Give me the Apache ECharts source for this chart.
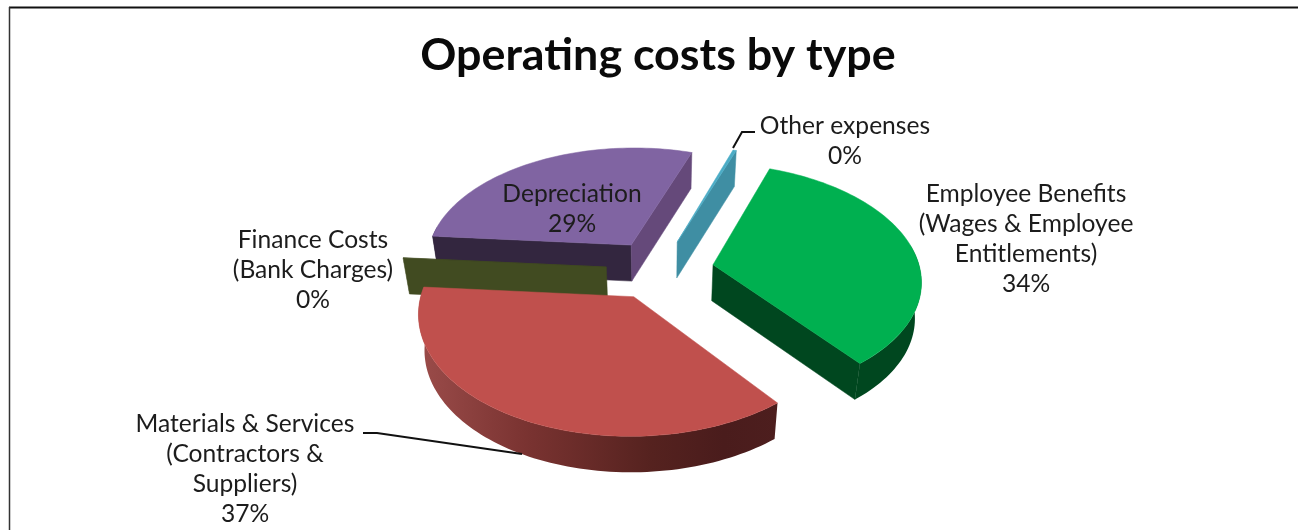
<!DOCTYPE html>
<html>
<head>
<meta charset="utf-8">
<title>Operating costs by type</title>
<style>
  html, body { margin: 0; padding: 0; background: #fff; }
  #chart { width: 1298px; height: 530px; }
</style>
<script src="https://cdn.jsdelivr.net/npm/echarts@6/dist/echarts.min.js"></script>
</head>
<body>
<div id="chart"></div>
<script>
// Chart data, clockwise from the first slice.
const categories = [
  'Employee Benefits\n(Wages & Employee\nEntitlements)',
  'Materials & Services\n(Contractors &\nSuppliers)',
  'Finance Costs\n(Bank Charges)',
  'Depreciation',
  'Other expenses'
];
const costShares = [33.9, 36.9, 0.05, 28.85, 0.3];

// Slice colours: top face, flat cut faces, outer rim (left to right).
const topColors = ['#00b050', '#c0504d', '#414b21', '#8064a2', '#4bacc6'];
const startFaceColors = ['#00471f', '#4a1c1c', '#414b21', '#33263f', '#3f8ea3'];
const endFaceColors = ['#00471f', '#4a1c1c', '#414b21', '#65497a', '#3f8ea3'];
const rimColors = [
  [[0, '#00471f'], [1, '#00471f']],
  [[0, '#9b4c4a'], [0.3, '#7a3331'], [0.65, '#55221f'], [0.85, '#4a1c1c'], [1, '#4d1e1e']],
  [[0, '#414b21'], [1, '#414b21']],
  [[0, '#33263f'], [1, '#33263f']],
  [[0, '#3f8ea3'], [1, '#3f8ea3']]
];

// Pie geometry in the plane of the pie, and its perspective projection.
const pie = {
  cx: 660, cy: 269.5, radius: 207, explode: 54, depth: 36, baseScale: 0.975,
  startAngle: 19.7, squash: 0.555, persY: 0.0006, persX: 0.0006
};

// Hand-placed label boxes (centre x, top y of the first line).
const labelPlaces = [[1026, 179], [245, 409.5], [313, 225], [572, 179], [845, 111]];
const labelFont = 'Lato, "Open Sans", sans-serif';

// Leader lines for the labels that sit away from their slice.
const leaders = [
  [[363, 433], [377, 433], [522, 454]],
  [[733, 148], [742, 132], [755, 132]]
];

const total = costShares.reduce((a, b) => a + b, 0);
const toRad = d => d * Math.PI / 180;

function project(u, v) {
  return [
    pie.cx + u / (1 - pie.persX * v),
    pie.cy + pie.squash * v / (1 - pie.persY * v)
  ];
}
// Point in the pie plane: clockwise angle from the far side, plus radial distance.
function planePoint(angle, r, off) {
  return [off[0] + r * Math.sin(toRad(angle)), off[1] - r * Math.cos(toRad(angle))];
}
// The underside of the pie is further away, so it draws slightly narrower.
const drop = p => [pie.cx + (p[0] - pie.cx) * pie.baseScale, p[1] + pie.depth];

function renderSlice(params, api) {
  const i = params.dataIndex;
  const share = api.value(0);
  const before = costShares.slice(0, i).reduce((a, b) => a + b, 0);
  const a0 = pie.startAngle + before / total * 360;
  const a1 = a0 + share / total * 360;
  const mid = (a0 + a1) / 2;
  const off = planePoint(mid, pie.explode, [0, 0]);
  const apex = project(off[0], off[1]);
  const steps = Math.max(2, Math.ceil((a1 - a0) / 1.5));
  const rimAt = a => { const p = planePoint(a, pie.radius, off); return project(p[0], p[1]); };

  const arc = [];
  for (let s = 0; s <= steps; s++) arc.push(rimAt(a0 + (a1 - a0) * s / steps));

  // Paint far slices first, using the slice's distance along the viewing axis.
  const base = 100 + Math.round(-Math.cos(toRad(mid)) * 100);
  const children = [];
  const poly = (points, fill, z) => children.push({
    type: 'polygon', z2: base * 4 + z, silent: true,
    shape: { points },
    style: { fill, stroke: typeof fill === 'string' ? fill : null, lineWidth: 0.5 }
  });

  // Outer rim: only the part between 90 and 270 degrees faces the viewer.
  // The range is widened a little because the narrower underside shows past the widest point.
  const rA = Math.max(a0, 80), rB = Math.min(a1, 280);
  if (rB > rA) {
    const top = [];
    const n = Math.ceil((rB - rA) / 1.5);
    for (let s = 0; s <= n; s++) top.push(rimAt(rA + (rB - rA) * s / n));
    poly(top.concat(top.slice().reverse().map(drop)), {
      type: 'linear', x: 0, y: 0, x2: 1, y2: 0,
      colorStops: rimColors[i].map(c => ({ offset: c[0], color: c[1] }))
    }, 0);
  }
  // Flat cut faces are drawn only when their outward normal points to the viewer.
  if (-Math.cos(toRad(a0 - 90)) > 0) {
    const e = arc[0];
    poly([apex, e, drop(e), drop(apex)], startFaceColors[i], 0);
  }
  if (-Math.cos(toRad(a1 + 90)) > 0) {
    const e = arc[arc.length - 1];
    poly([apex, e, drop(e), drop(apex)], endFaceColors[i], 1);
  }
  poly([apex].concat(arc), topColors[i], 2);

  // Category label with its rounded percentage.
  const pct = Math.round(share / total * 100);
  children.push({
    type: 'text', z2: 5000, silent: true,
    style: {
      x: labelPlaces[i][0], y: labelPlaces[i][1],
      text: categories[i] + '\n' + pct + '%',
      align: 'center', verticalAlign: 'top',
      fill: '#1c1c1c', font: '24.6px ' + labelFont, lineHeight: 30
    }
  });
  return { type: 'group', children };
}

const chart = echarts.init(document.getElementById('chart'), null, { renderer: 'canvas' });
chart.setOption({
  animation: false,
  backgroundColor: '#ffffff',
  title: {
    text: 'Operating costs by type',
    left: 653, top: 28, textAlign: 'center',
    textStyle: { fontFamily: labelFont, fontWeight: 'bold', fontSize: 44.8, color: '#0a0a0a' }
  },
  graphic: [
    // Chart frame: top and left edges.
    { type: 'line', shape: { x1: 9, y1: 7.5, x2: 1298, y2: 7.5 }, style: { stroke: '#111', lineWidth: 2 }, silent: true },
    { type: 'line', shape: { x1: 9.5, y1: 7, x2: 9.5, y2: 530 }, style: { stroke: '#333', lineWidth: 1.5 }, silent: true }
  ].concat(leaders.map(pts => ({
    type: 'polyline', silent: true, z: 10,
    shape: { points: pts },
    style: { stroke: '#111', lineWidth: 2, fill: null }
  }))),
  series: [{
    type: 'custom',
    coordinateSystem: 'none',
    renderItem: renderSlice,
    data: costShares.map(v => [v]),
    silent: true
  }]
});
</script>
</body>
</html>
